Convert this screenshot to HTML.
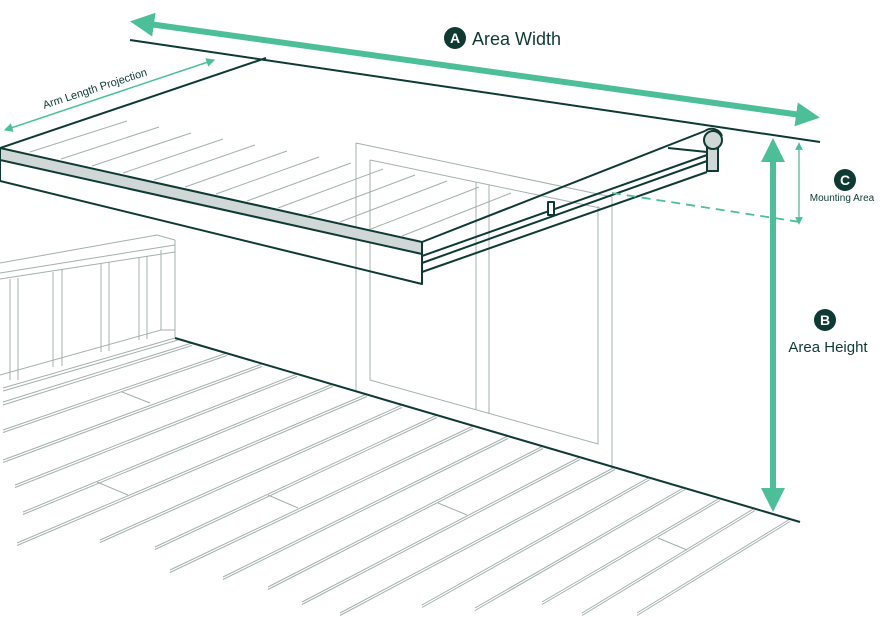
<!DOCTYPE html>
<html><head><meta charset="utf-8"><style>
html,body{margin:0;padding:0;background:#fff;width:886px;height:617px;overflow:hidden}
svg{display:block}
text{font-family:"Liberation Sans",sans-serif}
</style></head><body>
<svg width="886" height="617" viewBox="0 0 886 617" xmlns="http://www.w3.org/2000/svg">
<defs>
<marker id="ah" viewBox="0 0 10 10" refX="5" refY="5" markerWidth="4" markerHeight="4" orient="auto-start-reverse"><path d="M0,0 L10,5 L0,10 z" fill="#4cbf98"/></marker>
<marker id="as" viewBox="0 0 10 10" refX="5" refY="5" markerWidth="6" markerHeight="6" orient="auto-start-reverse"><path d="M0,0 L10,5 L0,10 z" fill="#4cbf98"/></marker>
</defs>
<g stroke="#a3b0ad" stroke-width="1" fill="none">
<!-- floor planks -->
<path d="M175,338 L3,388 M178,340 L3,391
M192,343 L3,402 M192,345.5 L3,405
M227,353 L3,430 M227,355.5 L3,432.5
M262,364 L3,460 M262,366.5 L3,462.5
M297,374 L15,485 M297,376.5 L15,487.5
M333,384 L23,512 M333,386.5 L23,514.5
M367,394 L17,543 M367,396.5 L17,545.5
M402,405 L100,540 M402,407.5 L100,542.5
M437,415 L155,547 M437,417.5 L155,549.5
M473,426 L170,570 M473,428.5 L170,572.5
M508,436 L223,577 M508,438.5 L223,579.5
M543,446 L268,587 M543,448.5 L268,589.5
M580,457 L302,602 M580,459.5 L302,604.5
M615,467 L340,613 M615,469.5 L340,615.5
M650,477 L422,605 M650,479.5 L422,607.5
M685,487 L475,608 M685,489.5 L475,610.5
M720,498 L542,602 M720,500.5 L542,604.5
M755,508 L582,613 M755,510.5 L582,615.5
M790,519 L637,613 M790,521.5 L637,615.5
M122,392 L150,403 M97,482 L128,495 M268,495 L298,508 M438,503 L467,515 M658,538 L687,550"/>
<!-- railing -->
<path d="M0,263 L157,235 L175,240 M0,273 L175,245 M0,279 L175,252 M175,240 L175,337 M161,250 L161,330
M10,279 L10,380 M18,278 L18,380 M53,272 L53,367 M62,270 L62,366 M101,263 L101,352 M109,262 L109,351 M139,257 L139,340 M147,256 L147,339
M0,375 L161,330 L175,330"/>
<!-- window -->
<path d="M356,143 L612,197 M370,160 L600,208 M356,143 L356,390 M370,160 L370,380 L598,444 L598,206 M612,197 L612,468 M476,182 L476,410 M489,185 L489,414"/>
<!-- awning slats -->
<path d="M30,152 L127,121 M61,159 L159,127 M92,166 L191,133 M123,173 L223,139 M154,180 L255,145 M185,187 L287,151 M216,194 L319,157 M247,201 L351,163 M278,208 L383,169 M309,215 L415,175 M340,222 L447,181 M371,229 L479,187 M402,236 L511,193"/>
</g>
<!-- floor edge -->
<line x1="175" y1="338" x2="800" y2="522" stroke="#0e3a33" stroke-width="2"/>
<!-- wall top line -->
<line x1="130" y1="40" x2="820" y2="142" stroke="#0e3a33" stroke-width="2"/>
<!-- awning -->
<g stroke="#0e3a33" stroke-width="2" stroke-linejoin="round" fill="none">
<line x1="0" y1="148" x2="266" y2="58"/>
<polygon points="0,148 422,242 422,254 0,160" fill="#cfd8d6"/>
<polyline points="0,160 0,181 422,284 422,254"/>
<line x1="422" y1="242" x2="705" y2="131"/>
<line x1="422" y1="256" x2="707" y2="155"/>
<line x1="422" y1="263" x2="707" y2="161"/>
<line x1="422" y1="272" x2="707" y2="172"/>
<line x1="668" y1="148" x2="707" y2="152"/>
<rect x="548" y="202" width="6" height="13" fill="#fff"/>
<rect x="707" y="140" width="11" height="31" fill="#cfd8d6"/>
<circle cx="713" cy="140" r="9" fill="#cfd8d6"/>
<path d="M705,131 A11,11 0 0 1 722,136" />
</g>
<!-- dimensions -->
<line x1="142" y1="23" x2="808" y2="116" stroke="#4cbf98" stroke-width="6" marker-start="url(#ah)" marker-end="url(#ah)"/>
<line x1="773" y1="150" x2="773" y2="500" stroke="#4cbf98" stroke-width="6" marker-start="url(#ah)" marker-end="url(#ah)"/>
<line x1="799" y1="146" x2="799" y2="221" stroke="#4cbf98" stroke-width="1.3" marker-start="url(#as)" marker-end="url(#as)"/>
<line x1="612" y1="193" x2="800" y2="222" stroke="#4cbf98" stroke-width="1.8" stroke-dasharray="9,6"/>
<line x1="8" y1="129" x2="211" y2="61" stroke="#4cbf98" stroke-width="1.5" marker-start="url(#as)" marker-end="url(#as)"/>
<text x="96" y="92" font-size="11" fill="#0e3a33" text-anchor="middle" transform="rotate(-18 96 92)">Arm Length Projection</text>
<circle cx="455" cy="38" r="11" fill="#0e3a33"/>
<text x="455" y="43" font-size="14" font-weight="bold" fill="#fff" text-anchor="middle">A</text>
<text x="472" y="45" font-size="18" fill="#0e3a33">Area Width</text>
<circle cx="845" cy="180" r="11" fill="#0e3a33"/>
<text x="845" y="185" font-size="14" font-weight="bold" fill="#fff" text-anchor="middle">C</text>
<text x="842" y="201" font-size="10" fill="#0e3a33" text-anchor="middle">Mounting Area</text>
<circle cx="825" cy="320" r="11" fill="#0e3a33"/>
<text x="825" y="325" font-size="14" font-weight="bold" fill="#fff" text-anchor="middle">B</text>
<text x="828" y="352" font-size="15" fill="#0e3a33" text-anchor="middle">Area Height</text>
</svg>
</body></html>
